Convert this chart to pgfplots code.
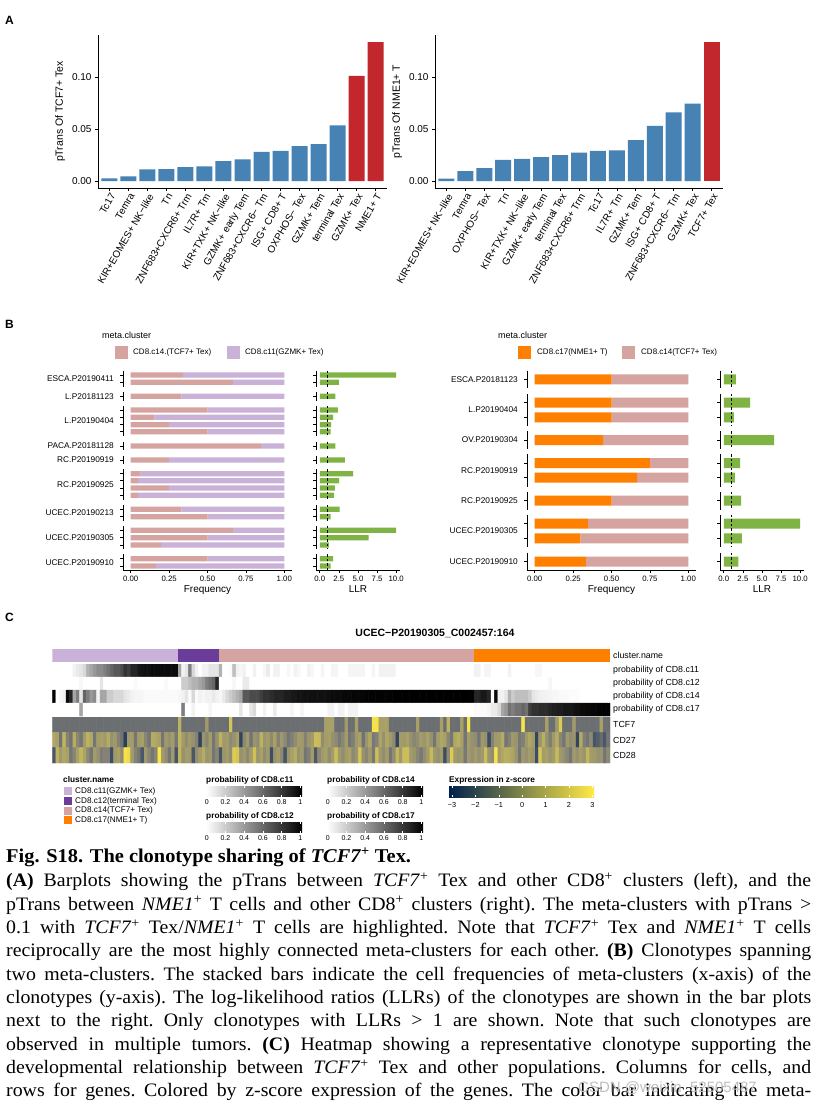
\documentclass[border=0pt]{standalone}
\usepackage{fontspec}
\setmainfont{Liberation Sans}
\newfontfamily\capfont[FakeStretch=1.045]{Liberation Serif}
\usepackage{pgfplots}
\usepackage{pgfplotstable}
\pgfplotsset{compat=1.18}

\definecolor{steel}{RGB}{70,130,180}
\definecolor{fire}{RGB}{193,39,45}
\definecolor{pinkc}{RGB}{214,164,160}
\definecolor{lavc}{RGB}{201,177,216}
\definecolor{purc}{RGB}{106,61,154}
\definecolor{orac}{RGB}{255,127,0}
\definecolor{grnc}{RGB}{127,180,68}
\definecolor{civA}{RGB}{0,32,77}
\definecolor{civB}{RGB}{124,123,120}
\definecolor{civC}{RGB}{255,234,70}

\newcommand\fz[1]{\fontsize{#1}{#1}\selectfont}
\newcommand\tcf{\textit{TCF7}\textsuperscript{+}}
\newcommand\nme{\textit{NME1}\textsuperscript{+}}
\newcommand\cde{CD8\textsuperscript{+}}

\pgfplotstableread{
y p q llr
375 0.34 0.66 10.0
382.3 0.665 0.335 2.49
396.3 0.33 0.67 2.05
410 0.5 0.5 2.36
417.3 0.154 0.846 1.75
424.7 0.248 0.752 1.48
431.7 0.5 0.5 1.4
446 0.848 0.152 2.05
460 0.248 0.752 3.28
473.7 0.065 0.935 4.37
480.7 0.048 0.952 2.53
488 0.248 0.752 1.97
495.3 0.048 0.952 1.83
509.3 0.33 0.67 2.58
516.7 0.5 0.5 1.4
530.3 0.667 0.333 10.0
537.7 0.5 0.5 6.38
545 0.198 0.802 1.18
558.7 0.5 0.5 1.75
566 0.165 0.835 1.4
}\tabBL

\pgfplotstableread{
y p q llr
379.3 0.5 0.5 1.57
402.7 0.5 0.5 3.45
417.3 0.5 0.5 1.31
440 0.445 0.555 6.6
463 0.75 0.25 2.14
477.7 0.667 0.333 1.44
500.7 0.5 0.5 2.27
523.7 0.348 0.652 10.0
538.3 0.298 0.702 2.36
561.7 0.333 0.667 1.92
}\tabBR

\pgfplotsset{
  gg/.style={scale only axis, clip=false,
    axis line style={line width=1pt, black},
    tick style={black, line width=0.7pt}, tick align=outside, major tick length=3pt,
    /pgf/number format/assume math mode=true,
    scaled x ticks=false, scaled y ticks=false},
}

\newcommand\facetF[5]{\draw[line width=1pt] (axis cs:#1,#2) -- (axis cs:#1,#3);
  \node[anchor=east, inner sep=0pt, font=\fz{8.3}, xshift=-9pt] at (axis cs:#1,#4) {#5};}
\newcommand\facetL[3]{\draw[line width=1pt] (axis cs:#1,#2) -- (axis cs:#1,#3);
  \draw[line width=0.9pt, dash pattern=on 2.5pt off 2pt] (axis cs:1,#2) -- (axis cs:1,#3);}

\newcommand\problegend[3]{% x, ytitle, title
  \node[anchor=west, inner sep=0pt, font=\bfseries\fz{8.3}] at (#1pt,-#2pt) {#3};
  \shade[left color=white, right color=black] (#1pt,{-(#2+6)*1pt}) rectangle ({(#1+96)*1pt},{-(#2+16.5)*1pt});
  \foreach \k/\l in {0/0,1/0.2,2/0.4,3/0.6,4/0.8,5/1} {
    \draw[white, line width=0.6pt] ({(#1+0.7+\k*18.74)*1pt},{-(#2+6)*1pt}) -- ++(0,-2pt);
    \draw[white, line width=0.6pt] ({(#1+0.7+\k*18.74)*1pt},{-(#2+16.5)*1pt}) -- ++(0,2pt);
    \node[font=\fz{7}, inner sep=0pt] at ({(#1+0.7+\k*18.74)*1pt},{-(#2+22)*1pt}) {\l};
  }}

\begin{document}
\begin{tikzpicture}
\path[use as bounding box] (0,0) rectangle (821pt,-1108pt);
\fill[white] (0,0) rectangle (821pt,-1108pt);

% ---------------- Panel labels
\node[anchor=base west, inner sep=0pt, font=\bfseries\fz{12}] at (5pt,-25pt) {A};
\node[anchor=base west, inner sep=0pt, font=\bfseries\fz{12}] at (5pt,-328pt) {B};
\node[anchor=base west, inner sep=0pt, font=\bfseries\fz{12}] at (5pt,-621pt) {C};

% ---------------- Panel A left
\begin{axis}[gg, at={(98pt,-35pt)}, anchor=north west, width=289pt, height=153pt,
  xmin=0.4, xmax=15.6, ymin=-0.0067, ymax=0.1404,
  axis x line*=bottom, axis y line*=left,
  xtick={1,...,15},
  xticklabels={Tc17,Temra,KIR+EOMES+ NK−like,Tn,ZNF683+CXCR6+ Trm,IL7R+ Tm,KIR+TXK+ NK−like,GZMK+ early Tem,ZNF683+CXCR6− Tm,ISG+ CD8+ T,OXPHOS− Tex,GZMK+ Tem,terminal Tex,GZMK+ Tex,NME1+ T},
  xticklabel style={rotate=60, anchor=north east, font=\fz{10}, inner sep=1pt},
  ytick={0,0.05,0.1},
  yticklabel style={font=\fz{10}, /pgf/number format/fixed, /pgf/number format/fixed zerofill, /pgf/number format/precision=2},
  ylabel={pTrans Of TCF7+ Tex}, ylabel style={font=\fz{10.5}},
]
\addplot[ybar, bar width=16pt, bar shift=0pt, fill=steel, draw=none] coordinates
 {(1,0.0026) (2,0.0045) (3,0.0112) (4,0.0115) (5,0.0134) (6,0.0141) (7,0.0192) (8,0.0208) (9,0.0281) (10,0.029) (11,0.0335) (12,0.0355) (13,0.0534)};
\addplot[ybar, bar width=16pt, bar shift=0pt, fill=fire, draw=none] coordinates
 {(14,0.101) (15,0.1335)};
\end{axis}

% ---------------- Panel A right
\begin{axis}[gg, at={(435pt,-35pt)}, anchor=north west, width=288pt, height=153pt,
  xmin=0.4, xmax=15.6, ymin=-0.0067, ymax=0.1404,
  axis x line*=bottom, axis y line*=left,
  xtick={1,...,15},
  xticklabels={KIR+EOMES+ NK−like,Temra,OXPHOS− Tex,Tn,KIR+TXK+ NK−like,GZMK+ early Tem,terminal Tex,ZNF683+CXCR6+ Trm,Tc17,IL7R+ Tm,GZMK+ Tem,ISG+ CD8+ T,ZNF683+CXCR6− Tm,GZMK+ Tex,TCF7+ Tex},
  xticklabel style={rotate=60, anchor=north east, font=\fz{10}, inner sep=1pt},
  ytick={0,0.05,0.1},
  yticklabel style={font=\fz{10}, /pgf/number format/fixed, /pgf/number format/fixed zerofill, /pgf/number format/precision=2},
  ylabel={pTrans Of NME1+ T}, ylabel style={font=\fz{10.5}},
]
\addplot[ybar, bar width=16pt, bar shift=0pt, fill=steel, draw=none] coordinates
 {(1,0.0022) (2,0.0096) (3,0.0125) (4,0.0204) (5,0.0214) (6,0.023) (7,0.0249) (8,0.0272) (9,0.029) (10,0.0294) (11,0.0393) (12,0.053) (13,0.0661) (14,0.0744)};
\addplot[ybar, bar width=16pt, bar shift=0pt, fill=fire, draw=none] coordinates
 {(15,0.1332)};
\end{axis}

% ---------------- Panel B legends
\node[anchor=west, inner sep=0pt, font=\fz{9}] at (102pt,-335pt) {meta.cluster};
\fill[pinkc] (115pt,-346pt) rectangle (128pt,-359pt);
\node[anchor=west, inner sep=0pt, font=\fz{8}] at (133pt,-352.5pt) {CD8.c14.(TCF7+ Tex)};
\fill[lavc] (227pt,-346pt) rectangle (240pt,-359pt);
\node[anchor=west, inner sep=0pt, font=\fz{8}] at (245pt,-352.5pt) {CD8.c11(GZMK+ Tex)};

\node[anchor=west, inner sep=0pt, font=\fz{9}] at (498pt,-335pt) {meta.cluster};
\fill[orac] (518pt,-346pt) rectangle (531pt,-359pt);
\node[anchor=west, inner sep=0pt, font=\fz{8}] at (537pt,-352.5pt) {CD8.c17(NME1+ T)};
\fill[pinkc] (622pt,-346pt) rectangle (635pt,-359pt);
\node[anchor=west, inner sep=0pt, font=\fz{8}] at (641pt,-352.5pt) {CD8.c14(TCF7+ Tex)};

% ---------------- Panel B left: frequency
\begin{axis}[gg, at={(123pt,-369pt)}, anchor=north west, width=169pt, height=201pt,
  xmin=-0.05, xmax=1.05, ymin=369, ymax=570, y dir=reverse,
  axis x line*=bottom, axis y line*=left, y axis line style={draw=none},
  xbar stacked, bar width=5.3pt,
  xtick={0,0.25,0.5,0.75,1},
  xticklabel style={font=\fz{7.8}, /pgf/number format/fixed, /pgf/number format/fixed zerofill, /pgf/number format/precision=2},
  ytick={375,382.3,396.3,410,417.3,424.7,431.7,446,460,473.7,480.7,488,495.3,509.3,516.7,530.3,537.7,545,558.7,566},
  yticklabel={\mbox{}},
  xlabel={Frequency}, xlabel style={font=\fz{10}, yshift=3pt},
]
\addplot[fill=pinkc, draw=none] table[x=p, y=y] {\tabBL};
\addplot[fill=lavc, draw=none] table[x=q, y=y] {\tabBL};
\facetF{-0.05}{370.6}{386.7}{378.7}{ESCA.P20190411}
\facetF{-0.05}{391.9}{400.7}{396.3}{L.P20181123}
\facetF{-0.05}{405.6}{436.1}{420.8}{L.P20190404}
\facetF{-0.05}{441.6}{450.4}{446}{PACA.P20181128}
\facetF{-0.05}{455.6}{464.4}{460}{RC.P20190919}
\facetF{-0.05}{469.3}{499.7}{484.5}{RC.P20190925}
\facetF{-0.05}{504.9}{521.1}{513}{UCEC.P20190213}
\facetF{-0.05}{525.9}{549.4}{537.7}{UCEC.P20190305}
\facetF{-0.05}{554.3}{570}{562.3}{UCEC.P20190910}
\end{axis}

% ---------------- Panel B left: LLR
\begin{axis}[gg, at={(316pt,-369pt)}, anchor=north west, width=84pt, height=201pt,
  xmin=-0.5, xmax=10.5, ymin=369, ymax=570, y dir=reverse,
  axis x line*=bottom, axis y line*=left, y axis line style={draw=none},
  xbar, bar width=5.3pt,
  xtick={0,2.5,5,7.5,10},
  xticklabel style={font=\fz{7.8}, /pgf/number format/fixed, /pgf/number format/fixed zerofill, /pgf/number format/precision=1},
  ytick={375,382.3,396.3,410,417.3,424.7,431.7,446,460,473.7,480.7,488,495.3,509.3,516.7,530.3,537.7,545,558.7,566},
  yticklabel={\mbox{}},
  xlabel={LLR}, xlabel style={font=\fz{10}, yshift=3pt},
]
\addplot[fill=grnc, draw=none, bar shift=0pt] table[x=llr, y=y] {\tabBL};
\facetL{-0.5}{370.6}{386.7}
\facetL{-0.5}{391.9}{400.7}
\facetL{-0.5}{405.6}{436.1}
\facetL{-0.5}{441.6}{450.4}
\facetL{-0.5}{455.6}{464.4}
\facetL{-0.5}{469.3}{499.7}
\facetL{-0.5}{504.9}{521.1}
\facetL{-0.5}{525.9}{549.4}
\facetL{-0.5}{554.3}{570}
\end{axis}

% ---------------- Panel B right: frequency
\begin{axis}[gg, at={(527pt,-369pt)}, anchor=north west, width=169pt, height=201pt,
  xmin=-0.05, xmax=1.05, ymin=369, ymax=570, y dir=reverse,
  axis x line*=bottom, axis y line*=left, y axis line style={draw=none},
  xbar stacked, bar width=10pt,
  xtick={0,0.25,0.5,0.75,1},
  xticklabel style={font=\fz{7.8}, /pgf/number format/fixed, /pgf/number format/fixed zerofill, /pgf/number format/precision=2},
  ytick={379.3,402.7,417.3,440,463,477.7,500.7,523.7,538.3,561.7},
  yticklabel={\mbox{}},
  xlabel={Frequency}, xlabel style={font=\fz{10}, yshift=3pt},
]
\addplot[fill=orac, draw=none] table[x=p, y=y] {\tabBR};
\addplot[fill=pinkc, draw=none] table[x=q, y=y] {\tabBR};
\facetF{-0.05}{370.5}{388.1}{379.3}{ESCA.P20181123}
\facetF{-0.05}{393.9}{426.1}{410}{L.P20190404}
\facetF{-0.05}{431.2}{448.8}{440}{OV.P20190304}
\facetF{-0.05}{454.2}{486.5}{470.3}{RC.P20190919}
\facetF{-0.05}{491.9}{509.5}{500.7}{RC.P20190925}
\facetF{-0.05}{514.9}{547.1}{531}{UCEC.P20190305}
\facetF{-0.05}{552.9}{570}{561.7}{UCEC.P20190910}
\end{axis}

% ---------------- Panel B right: LLR
\begin{axis}[gg, at={(720pt,-369pt)}, anchor=north west, width=84pt, height=201pt,
  xmin=-0.5, xmax=10.5, ymin=369, ymax=570, y dir=reverse,
  axis x line*=bottom, axis y line*=left, y axis line style={draw=none},
  xbar, bar width=10pt,
  xtick={0,2.5,5,7.5,10},
  xticklabel style={font=\fz{7.8}, /pgf/number format/fixed, /pgf/number format/fixed zerofill, /pgf/number format/precision=1},
  ytick={379.3,402.7,417.3,440,463,477.7,500.7,523.7,538.3,561.7},
  yticklabel={\mbox{}},
  xlabel={LLR}, xlabel style={font=\fz{10}, yshift=3pt},
]
\addplot[fill=grnc, draw=none, bar shift=0pt] table[x=llr, y=y] {\tabBR};
\facetL{-0.5}{370.5}{388.1}
\facetL{-0.5}{393.9}{426.1}
\facetL{-0.5}{431.2}{448.8}
\facetL{-0.5}{454.2}{486.5}
\facetL{-0.5}{491.9}{509.5}
\facetL{-0.5}{514.9}{547.1}
\facetL{-0.5}{552.9}{570}
\end{axis}

% ---------------- Panel C
\node[font=\bfseries\fz{10.5}, inner sep=0pt] at (435pt,-633pt) {UCEC−P20190305\_C002457:164};

\begin{axis}[at={(52.4pt,-649pt)}, anchor=north west, scale only axis, width=557.6pt, height=13pt,
  xmin=0, xmax=164, ymin=0.5, ymax=1.5, hide axis, xbar stacked, bar width=13pt]
\addplot[fill=lavc, draw=none] coordinates {(37,1)};
\addplot[fill=purc, draw=none] coordinates {(12,1)};
\addplot[fill=pinkc, draw=none] coordinates {(75,1)};
\addplot[fill=orac, draw=none] coordinates {(40,1)};
\end{axis}

\begin{axis}[at={(52.4pt,-664pt)}, anchor=north west, scale only axis, width=557.6pt, height=52pt,
  xmin=-0.5, xmax=163.5, ymin=-0.5, ymax=3.5, y dir=reverse, hide axis,
  colormap={bw}{rgb255=(255,255,255) rgb255=(0,0,0)}, point meta min=0, point meta max=1]
\addplot[matrix plot*, mesh/rows=4, mesh/cols=164, point meta=explicit]
 table[row sep=\\, x expr={mod(\coordindex,164)}, y expr={floor(\coordindex/164)}, meta=c] {
c\\
0\\0\\0\\0\\0\\0\\0.05\\0.08\\0.1\\0.15\\
0.3\\0.35\\0.4\\0.45\\0.45\\0.5\\0.55\\0.6\\0.65\\0.65\\
0.7\\0.8\\0.75\\0.85\\0.85\\0.9\\0.92\\0.93\\0.93\\0.95\\
0.95\\0.95\\0.95\\0.95\\0.95\\0.95\\0.95\\0.35\\0.05\\0.1\\
0.5\\0.15\\0.05\\0\\0.05\\0.05\\0.1\\0.1\\0.1\\0.3\\
0\\0\\0.02\\0.25\\0.05\\0.03\\0.05\\0\\0\\0.05\\
0\\0\\0.03\\0.08\\0\\0.05\\0.05\\0\\0\\0.03\\
0\\0.05\\0.03\\0\\0\\0.05\\0.03\\0\\0\\0.04\\
0\\0\\0.04\\0.04\\0\\0\\0\\0.04\\0.04\\0.04\\
0.04\\0.04\\0\\0\\0.04\\0\\0.05\\0.05\\0.05\\0.05\\
0.05\\0\\0\\0\\0\\0\\0\\0\\0\\0\\
0\\0\\0\\0\\0\\0\\0\\0\\0\\0\\
0\\0\\0\\0\\0.05\\0.05\\0\\0.04\\0.04\\0\\
0\\0\\0\\0\\0.05\\0\\0\\0\\0\\0\\
0\\0\\0.03\\0.03\\0\\0\\0\\0\\0\\0\\
0\\0\\0\\0\\0\\0\\0\\0\\0\\0\\
0\\0\\0\\0\\
0\\0\\0\\0\\0\\0\\0\\0\\0.03\\0\\
0\\0\\0\\0\\0.1\\0\\0\\0\\0\\0\\
0\\0\\0\\0\\0.02\\0\\0\\0\\0\\0\\
0\\0\\0\\0.02\\0\\0\\0\\0\\0.2\\0.2\\
0.25\\0.3\\0.3\\0.35\\0.4\\0.5\\0.55\\0.6\\0.85\\0\\
0\\0\\0\\0.03\\0\\0\\0.08\\0.08\\0\\0\\
0\\0\\0\\0\\0\\0\\0\\0\\0\\0\\
0\\0\\0\\0\\0\\0\\0\\0\\0\\0\\
0\\0\\0\\0\\0\\0\\0\\0\\0\\0\\
0\\0\\0\\0\\0\\0\\0\\0\\0\\0\\
0\\0\\0\\0\\0\\0\\0\\0\\0\\0\\
0\\0\\0\\0\\0\\0\\0\\0\\0\\0\\
0\\0\\0\\0\\0\\0\\0\\0\\0\\0\\
0\\0\\0\\0\\0\\0\\0\\0\\0\\0\\
0\\0\\0\\0\\0\\0\\0.03\\0\\0\\0\\
0\\0\\0\\0\\0\\0\\0\\0\\0\\0\\
0\\0\\0\\0\\
1\\0\\0.03\\0.05\\0.95\\0.85\\0.35\\0.5\\0.1\\0.6\\
0.5\\0.4\\0.45\\0.05\\0.35\\0.35\\0.2\\0.2\\0.15\\0.15\\
0.15\\0.1\\0.08\\0.05\\0.04\\0.04\\0.03\\0.02\\0.02\\0.02\\
0.02\\0.02\\0.02\\0.02\\0.02\\0.02\\0.02\\0.03\\0.05\\0.1\\
0.02\\0.15\\0.02\\0.05\\0.03\\0.05\\0.05\\0.08\\0.05\\0.03\\
0.08\\0.15\\0.2\\0.25\\0.3\\0.35\\0.65\\0.65\\0.7\\0.7\\
0.7\\0.75\\0.8\\0.8\\0.82\\0.85\\0.85\\0.85\\0.88\\0.88\\
0.9\\0.9\\0.92\\0.92\\0.93\\0.93\\0.93\\0.93\\0.93\\0.93\\
0.93\\0.94\\0.95\\0.95\\0.95\\0.96\\0.96\\0.96\\0.97\\0.97\\
0.97\\0.97\\0.98\\0.98\\0.98\\0.98\\0.98\\0.98\\0.98\\0.98\\
0.99\\0.99\\0.99\\0.99\\0.99\\0.99\\0.99\\0.99\\0.99\\0.99\\
0.99\\0.99\\0.99\\0.99\\0.99\\0.99\\0.99\\0.99\\0.99\\0.99\\
1\\1\\1\\1\\0.85\\0.85\\0.9\\0.9\\0.85\\0\\
0.95\\0.05\\0.05\\0.1\\0.3\\0.2\\0.25\\0.25\\0.25\\0.25\\
0.2\\0.1\\0.08\\0.06\\0.05\\0.05\\0.04\\0.03\\0.03\\0.02\\
0.02\\0.02\\0.01\\0.01\\0.01\\0\\0\\0\\0\\0\\
0\\0\\0\\0\\
0\\0\\0\\0\\0\\0\\0\\0\\0.35\\0\\
0\\0\\0\\0\\0\\0\\0\\0\\0\\0\\
0\\0\\0\\0\\0\\0\\0\\0\\0\\0\\
0\\0\\0\\0\\0\\0\\0\\0\\0.5\\0\\
0\\0.05\\0\\0\\0\\0\\0.04\\0\\0\\0\\
0\\0\\0\\0\\0\\0.1\\0\\0\\0.1\\0.15\\
0\\0\\0.05\\0\\0\\0.08\\0\\0\\0\\0\\
0.04\\0\\0\\0.04\\0\\0\\0\\0\\0\\0\\
0\\0.05\\0.05\\0\\0.05\\0.05\\0\\0.05\\0.05\\0.05\\
0\\0\\0\\0\\0\\0\\0\\0\\0\\0\\
0\\0\\0\\0\\0\\0\\0\\0\\0\\0\\
0\\0\\0\\0\\0\\0\\0\\0\\0\\0\\
0\\0\\0\\0\\0.02\\0.02\\0.02\\0.02\\0.04\\0.08\\
0.08\\0.15\\0.35\\0.4\\0.55\\0.5\\0.55\\0.55\\0.6\\0.55\\
0.75\\0.8\\0.8\\0.82\\0.82\\0.82\\0.85\\0.87\\0.88\\0.88\\
0.9\\0.9\\0.9\\0.92\\0.93\\0.95\\0.95\\0.96\\0.97\\0.97\\
0.98\\0.98\\0.99\\1\\
};
\end{axis}

\begin{axis}[at={(52.4pt,-717pt)}, anchor=north west, scale only axis, width=557.6pt, height=46pt,
  xmin=-0.5, xmax=163.5, ymin=-0.5, ymax=2.5, y dir=reverse, hide axis,
  colormap={civ}{rgb255=(0,32,77) rgb255=(124,123,120) rgb255=(255,234,70)}, point meta min=-3, point meta max=3]
\addplot[matrix plot*, mesh/rows=3, mesh/cols=164, point meta=explicit]
 table[row sep=\\, x expr={mod(\coordindex,164)}, y expr={floor(\coordindex/164)}, meta=c] {
c\\
-0.4\\-0.4\\-0.4\\-0.4\\-0.4\\-0.4\\-0.4\\-0.4\\-0.4\\-0.4\\
-0.4\\-0.4\\-0.4\\-0.4\\-0.4\\-0.4\\-0.4\\-0.4\\-0.4\\-0.4\\
-0.4\\-0.4\\-0.4\\-0.4\\-0.4\\-0.4\\-0.4\\-0.4\\-0.4\\-0.4\\
-0.4\\-0.4\\-0.4\\-0.4\\-0.4\\-0.4\\-0.4\\1.5\\-0.4\\-0.4\\
-0.4\\-0.4\\-0.4\\-0.4\\-0.4\\0.8\\-0.4\\-0.4\\-0.4\\-0.4\\
-0.4\\-0.4\\2\\-0.4\\-0.4\\-0.4\\-0.4\\-0.4\\-0.4\\-0.4\\
-0.4\\-0.4\\-0.4\\-0.4\\-0.4\\-0.4\\-0.4\\-0.4\\-0.4\\-0.4\\
-0.4\\-0.4\\-0.4\\-0.4\\-0.4\\-0.4\\-0.4\\-0.4\\-0.4\\-0.4\\
1\\1\\1\\-0.4\\-0.4\\-0.4\\0.8\\-0.4\\-0.4\\1\\
-0.4\\-0.4\\-0.4\\-0.4\\2.8\\2.8\\1\\1\\1\\-0.4\\
-0.4\\-0.4\\-0.4\\-0.4\\-0.4\\-0.4\\-0.4\\1\\-0.4\\-0.4\\
-0.4\\-0.4\\-0.4\\-0.4\\1\\-0.4\\1.5\\-0.4\\-0.4\\-0.4\\
1\\-0.4\\2.8\\-0.4\\-0.4\\-0.4\\-0.4\\-0.4\\-0.4\\-0.4\\
-0.4\\-0.4\\-0.4\\-0.4\\-0.4\\-0.4\\-0.4\\-0.4\\2.8\\-0.4\\
-0.4\\-0.4\\-0.4\\-0.4\\-0.4\\1\\-0.4\\-0.4\\0.8\\2.2\\
-0.4\\-0.4\\-0.4\\0.8\\-0.4\\-0.4\\-0.4\\-0.4\\-0.4\\-0.4\\
-0.4\\1\\-0.4\\-0.4\\
1.2\\1\\-0.3\\1.5\\0.2\\-0.3\\1.3\\0.3\\-0.2\\0.8\\
1.5\\1.2\\-0.2\\0.9\\1\\0.8\\1.3\\0.6\\0.8\\0.2\\
-0.3\\-2\\0.8\\0.9\\-0.2\\0.9\\1\\0.3\\-0.2\\1.3\\
1.2\\1\\-0.2\\0.8\\0.6\\0.9\\-0.1\\1.6\\0.9\\0.5\\
0.8\\0.6\\0.2\\-1.8\\0.7\\0.3\\0.9\\-0.2\\0.6\\1.5\\
0.8\\0.9\\0.4\\0.6\\1\\-1.8\\0.4\\0.8\\-0.2\\0.7\\
0.5\\1.5\\0.7\\0.9\\0.4\\1\\0.2\\0.8\\0.4\\-0.2\\
0.1\\0.5\\0.9\\0.8\\0.2\\0.7\\0.9\\1.8\\1.7\\0.5\\
0.9\\1\\0.6\\0.4\\-0.1\\0.3\\0.9\\-0.2\\0.1\\0.8\\
1\\-0.3\\0.7\\1.2\\-0.1\\0.2\\1.1\\0.6\\1.2\\0.8\\
0.4\\-1.8\\0.9\\0.8\\1\\0.6\\0.3\\0.5\\0.9\\0.7\\
1\\0.6\\-0.2\\0.9\\1.2\\1\\0.3\\-0.2\\1.2\\1.4\\
1\\-0.2\\0.9\\0.6\\0.5\\-0.2\\0.8\\0.6\\-1.5\\0.2\\
0.8\\0.9\\1.3\\-0.2\\0.2\\0.8\\0.7\\-0.1\\0.1\\0.8\\
1.2\\0.9\\-1.8\\0.7\\1.4\\0.6\\0.1\\0.8\\1.3\\0.3\\
-0.2\\0.8\\0.5\\0.6\\-1.8\\1.3\\0.1\\-0.2\\0.4\\-1.3\\
-1\\-0.5\\-1.2\\-0.2\\
-1.2\\1.5\\0.8\\1.2\\1\\-0.2\\0.3\\1\\1.6\\1.1\\
0.4\\-0.2\\0.9\\0.6\\0\\0.2\\0.2\\-1.5\\0.8\\1\\
0.5\\2.8\\2.6\\0.9\\0.2\\-0.2\\-1.2\\0.8\\0.3\\-0.2\\
0.3\\2.9\\0.9\\0.5\\-0.2\\0.8\\-1.3\\1.6\\0.6\\0.9\\
0.8\\-1.2\\0.5\\0.9\\1.3\\0.7\\0.8\\-0.2\\0.3\\-1.3\\
0.7\\0.9\\0.5\\2.2\\2\\0.6\\0.8\\0.4\\0.9\\1.9\\
0.7\\1\\0.5\\0.8\\-1.5\\0.6\\0.9\\0.4\\-1.3\\0.7\\
1\\1.3\\0.6\\0.8\\-0.2\\0.1\\0.9\\-1.2\\0.4\\0.8\\
1\\0.5\\0.9\\1.8\\0.8\\0.5\\0.9\\1\\0.4\\0.7\\
2\\0.6\\0.3\\0.8\\-0.1\\1.8\\0.8\\0.5\\0.9\\-0.2\\
0.5\\1.6\\0.8\\1.8\\1.8\\0.9\\0.7\\0.3\\-0.1\\0.5\\
0.9\\1.7\\0.8\\0.6\\0.9\\-1.5\\0.4\\2.2\\0.9\\0.7\\
0.8\\-0.1\\0.8\\0.6\\0.9\\0.6\\0.8\\1.8\\0.7\\0.5\\
2.8\\0.9\\1.2\\1.4\\1.3\\1.1\\0.7\\-0.2\\0.8\\0.6\\
0.9\\0.7\\-1.5\\2\\0.9\\1\\0.7\\0.9\\1.7\\0.8\\
0.6\\0.3\\-0.2\\0.8\\0.6\\0.9\\0.7\\1.6\\0.9\\0.8\\
0.6\\0.7\\-0.2\\0.4\\
};
\end{axis}

% heatmap row labels
\foreach \yy/\tt in {655.5/cluster.name, 670.5/probability of CD8.c11, 683.5/probability of CD8.c12, 696.5/probability of CD8.c14, 709.5/probability of CD8.c17, 724.5/TCF7, 740/CD27, 755.5/CD28}
  \node[anchor=west, inner sep=0pt, font=\fz{8.8}] at (613pt,-\yy pt) {\tt};

% heatmap legends
\node[anchor=west, inner sep=0pt, font=\bfseries\fz{8.3}] at (63pt,-780pt) {cluster.name};
\foreach \yy/\cc/\tt in {791.3/lavc/CD8.c11(GZMK+ Tex), 801/purc/CD8.c12(terminal Tex), 810.7/pinkc/CD8.c14(TCF7+ Tex), 820.3/orac/CD8.c17(NME1+ T)} {
  \fill[\cc] (64pt,{-(\yy-3.9)*1pt}) rectangle (71.5pt,{-(\yy+3.9)*1pt});
  \node[anchor=west, inner sep=0pt, font=\fz{8.2}] at (75pt,-\yy pt) {\tt};
}
\problegend{206}{780}{probability of CD8.c11}
\problegend{327}{780}{probability of CD8.c14}
\problegend{206}{816}{probability of CD8.c12}
\problegend{327}{816}{probability of CD8.c17}

\node[anchor=west, inner sep=0pt, font=\bfseries\fz{8.3}] at (449pt,-780pt) {Expression in z-score};
\shade[left color=civA, middle color=civB, right color=civC] (449pt,-786pt) rectangle (594pt,-797pt);
\foreach \k/\l in {0/−3,1/−2,2/−1,3/0,4/1,5/2,6/3} {
  \draw[white, line width=0.6pt] ({(452+\k*23.4)*1pt},-786pt) -- ++(0,-2pt);
  \draw[white, line width=0.6pt] ({(452+\k*23.4)*1pt},-797pt) -- ++(0,2pt);
  \node[font=\fz{7.3}, inner sep=0pt] at ({(452+\k*23.4)*1pt},-804.5pt) {\l};
}

% ---------------- Caption
\node[anchor=base west, inner sep=0pt, font=\capfont\bfseries\fz{19.5}] at (6pt,-862.7pt)
  {Fig. S18. The clonotype sharing of \textit{TCF7}\textsuperscript{+} Tex.};
\foreach \yy/\tt in {
  886.7/{\textbf{(A)} Barplots showing the pTrans between \tcf{} Tex and other \cde{} clusters (left), and the},
  910/{pTrans between \nme{} T cells and other \cde{} clusters (right). The meta-clusters with pTrans >},
  933.3/{0.1 with \tcf{} Tex/\nme{} T cells are highlighted. Note that \tcf{} Tex and \nme{} T cells},
  956.7/{reciprocally are the most highly connected meta-clusters for each other. \textbf{(B)} Clonotypes spanning},
  980/{two meta-clusters. The stacked bars indicate the cell frequencies of meta-clusters (x-axis) of the},
  1003.3/{clonotypes (y-axis). The log-likelihood ratios (LLRs) of the clonotypes are shown in the bar plots},
  1026.7/{next to the right. Only clonotypes with LLRs > 1 are shown. Note that such clonotypes are},
  1050/{observed in multiple tumors. \textbf{(C)} Heatmap showing a representative clonotype supporting the},
  1073.3/{developmental relationship between \tcf{} Tex and other populations. Columns for cells, and},
  1096.7/{rows for genes. Colored by z-score expression of the genes. The color bar indicating the meta-}}
  \node[anchor=base west, inner sep=0pt] at (6pt,-\yy pt) {\capfont\fz{19}\frenchspacing\makebox[805pt][s]{\tt}};

\node[anchor=base west, inner sep=0pt, text=gray!50, font=\fz{15}] at (578pt,-1092pt) {CSDN @weixin\_52505487};
\end{tikzpicture}
\end{document}
